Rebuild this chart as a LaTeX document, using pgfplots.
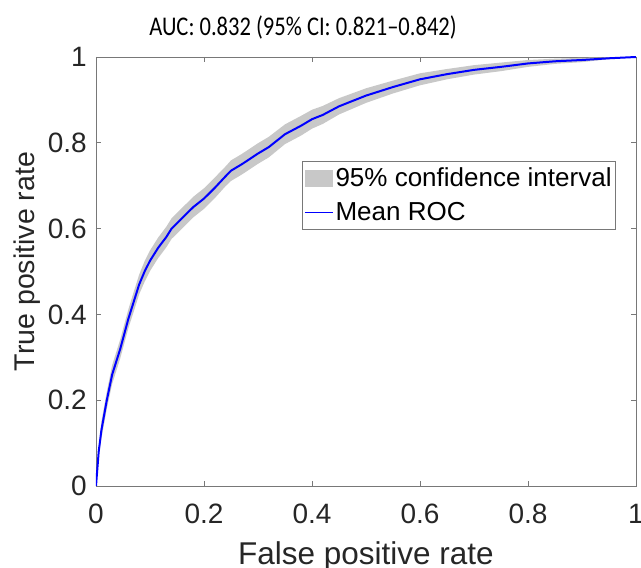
\documentclass[border=0pt]{standalone}
\usepackage{fontspec}
\setmainfont{Liberation Sans}
\newfontfamily\titlefont{Carlito}
\usepackage{graphicx}
\usepackage{pgfplots}
\pgfplotsset{compat=1.18}
\definecolor{bandgray}{RGB}{200,200,200}
\definecolor{framegray}{RGB}{120,120,120}
\definecolor{textdark}{RGB}{38,38,38}
\definecolor{roc}{RGB}{0,0,255}
\begin{document}
\begin{tikzpicture}
\path[use as bounding box] (-96pt,-82pt) rectangle (545pt,486pt);
\begin{axis}[
  at={(0pt,0pt)}, anchor=south west,
  scale only axis, width=540pt, height=429pt,
  xmin=0, xmax=1, ymin=0, ymax=1,
  xtick={0,0.2,0.4,0.6,0.8,1}, ytick={0,0.2,0.4,0.6,0.8,1},
  xticklabels={0,0.2,0.4,0.6,0.8,1}, yticklabels={0,0.2,0.4,0.6,0.8,1},
  tick align=inside, major tick length=5pt,
  axis line style={framegray, line width=0.8pt},
  tick style={framegray, line width=0.6pt},
  /pgf/number format/assume math mode=true,
  ticklabel style={font=\fontsize{28}{30}\selectfont, text=textdark},
  xticklabel style={anchor=base, inner sep=0pt, yshift=-38pt},
  yticklabel style={anchor=east, inner sep=0pt, xshift=-9pt},
  xlabel={False positive rate}, ylabel={True positive rate},
  xlabel style={at={(axis description cs:0.5,-0.184)}, anchor=base, font=\fontsize{31.5}{34}\selectfont, text=textdark},
  ylabel style={at={(axis description cs:-0.113,0.523)}, anchor=base, rotate=0, font=\fontsize{28.5}{31}\selectfont, text=textdark},
  legend style={at={(axis description cs:0.381,0.758)}, anchor=north west,
    draw=framegray, line width=0.6pt, fill=white,
    font=\fontsize{26}{28}\selectfont,
    inner xsep=2pt, inner ysep=5pt, row sep=10pt,
    nodes={inner sep=2pt}},
  legend cell align=left,
  clip mode=individual,
]
\addplot[fill=bandgray, draw=none,
  legend image code/.code={\fill[bandgray] (0pt,-8.5pt) rectangle (28pt,8.5pt);}]
coordinates {
(0,0) (0.005,0.09) (0.01,0.15) (0.02,0.22) (0.03,0.282) (0.045,0.342)
(0.06,0.412) (0.07,0.453) (0.08,0.493) (0.09,0.524) (0.10,0.549) (0.115,0.579)
(0.13,0.604) (0.14,0.624) (0.16,0.649) (0.18,0.674) (0.20,0.694) (0.22,0.719)
(0.24,0.745) (0.25,0.759) (0.27,0.774) (0.30,0.799) (0.32,0.814) (0.35,0.843)
(0.38,0.863) (0.40,0.877) (0.42,0.886) (0.45,0.904) (0.50,0.927) (0.55,0.945)
(0.60,0.962) (0.65,0.972) (0.70,0.981) (0.75,0.987) (0.80,0.993) (0.85,0.996)
(0.90,0.998) (0.95,0.999) (1,1)
(0.95,0.995) (0.90,0.988) (0.85,0.984) (0.80,0.977) (0.75,0.967) (0.70,0.959)
(0.65,0.948) (0.60,0.934) (0.55,0.915) (0.50,0.893) (0.45,0.866) (0.42,0.844)
(0.40,0.833) (0.38,0.817) (0.35,0.797) (0.32,0.766) (0.30,0.751) (0.27,0.726)
(0.25,0.711) (0.24,0.699) (0.22,0.671) (0.20,0.646) (0.18,0.626) (0.16,0.601)
(0.14,0.576) (0.13,0.556) (0.115,0.531) (0.10,0.501) (0.09,0.476) (0.08,0.447)
(0.07,0.407) (0.06,0.368) (0.045,0.298) (0.03,0.238) (0.02,0.18) (0.01,0.11)
(0.005,0.07) (0,0)
};
\addlegendentry{95\% confidence interval}
\addplot[roc, line width=2pt,
  legend image code/.code={\draw[draw=roc, line width=1.5pt] (0pt,0pt) -- (28pt,0pt);}]
coordinates {
(0,0) (0.005,0.08) (0.01,0.13) (0.02,0.20) (0.03,0.26) (0.045,0.32)
(0.06,0.39) (0.07,0.43) (0.08,0.47) (0.09,0.50) (0.10,0.525) (0.115,0.555)
(0.13,0.58) (0.14,0.60) (0.16,0.625) (0.18,0.65) (0.20,0.67) (0.22,0.695)
(0.24,0.722) (0.25,0.735) (0.27,0.75) (0.30,0.775) (0.32,0.79) (0.35,0.82)
(0.38,0.84) (0.40,0.855) (0.42,0.865) (0.45,0.885) (0.50,0.91) (0.55,0.93)
(0.60,0.948) (0.65,0.96) (0.70,0.97) (0.75,0.977) (0.80,0.985) (0.85,0.99)
(0.90,0.993) (0.95,0.997) (1,1)
};
\addlegendentry{Mean ROC}
\end{axis}
\node[anchor=base, font=\titlefont\fontsize{27}{29}\selectfont, text=black, inner sep=0pt]
  at (207pt,450pt) {\scalebox{0.835}[1]{AUC: 0.832 (95\% CI: 0.821–0.842)}};
\end{tikzpicture}
\end{document}
